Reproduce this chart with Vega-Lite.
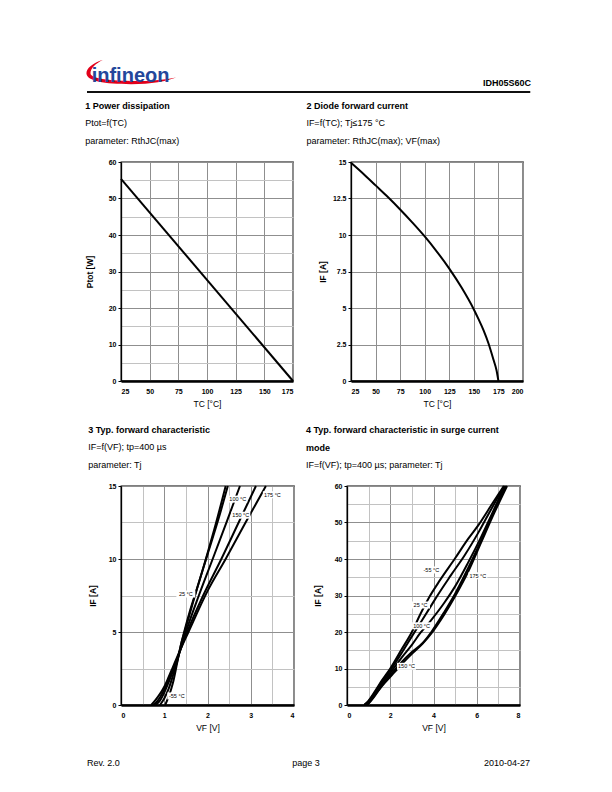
{
  "$schema": "https://vega.github.io/schema/vega-lite/v6.json",
  "background": "white",
  "padding": {"left": 84, "top": 55, "right": 5, "bottom": 5},
  "spacing": 8,
  "config": {
    "font": "Liberation Sans",
    "view": {"stroke": "black", "strokeWidth": 1.3},
    "axis": {"labelFont": "Liberation Sans", "labelFontSize": 7, "labelFontWeight": "bold", "labelColor": "black", "titleFont": "Liberation Sans", "titleFontSize": 8.5, "titleColor": "black", "domainColor": "black", "tickColor": "black", "gridColor": "#8f8f8f", "gridWidth": 1, "grid": true},
    "axisX": {"ticks": false, "labelPadding": 6, "titlePadding": 5, "domainWidth": 2.5, "titleFontWeight": "normal", "labelAngle": 0},
    "axisY": {"tickSize": 3, "labelPadding": 2, "titleFontWeight": "bold", "domainWidth": 1.3},
    "title": {"anchor": "start", "frame": "bounds", "font": "Liberation Sans", "fontSize": 9, "fontWeight": "bold", "color": "black", "subtitleFont": "Liberation Sans", "subtitleFontSize": 9, "subtitleColor": "black", "subtitleLineHeight": 18, "subtitlePadding": 8, "lineHeight": 18, "offset": 12},
    "line": {"color": "black", "strokeWidth": 2}
  },
  "vconcat": [
    {
      "width": 410,
      "height": 37,
      "view": {"stroke": null},
      "layer": [
        {
          "data": {"values": [{"part": "swoosh"}]},
          "mark": {"type": "point", "shape": "M -0.62 -0.27 C -0.85 -0.2 -1.0 -0.08 -0.99 0.04 C -0.97 0.2 -0.6 0.27 0.0 0.27 C 0.45 0.27 0.8 0.2 1.0 0.12 C 0.75 0.17 0.4 0.21 0.0 0.2 C -0.55 0.19 -0.9 0.14 -0.9 0.03 C -0.9 -0.07 -0.8 -0.18 -0.62 -0.27 Z", "filled": true, "color": "#e2001a", "opacity": 1, "size": 8100},
          "encoding": {
            "x": {"datum": 0.0244, "type": "quantitative", "scale": {"domain": [0, 1]}, "axis": null},
            "y": {"datum": 0.54, "type": "quantitative", "scale": {"domain": [0, 1]}, "axis": null}
          }
        },
        {
          "data": {"values": [{"t": "infineon"}]},
          "mark": {"type": "text", "align": "left", "baseline": "alphabetic", "font": "Liberation Sans", "fontSize": 20, "fontWeight": "bold", "color": "#24479b"},
          "encoding": {
            "x": {"datum": -0.0715, "type": "quantitative", "scale": {"domain": [0, 1]}, "axis": null},
            "y": {"datum": 0.28, "type": "quantitative", "scale": {"domain": [0, 1]}, "axis": null},
            "text": {"field": "t"}
          }
        },
        {
          "data": {"values": [{"t": "IDH05S60C"}]},
          "mark": {"type": "text", "align": "right", "baseline": "alphabetic", "font": "Liberation Sans", "fontSize": 9, "fontWeight": "bold", "color": "black"},
          "encoding": {
            "x": {"datum": 1, "type": "quantitative", "scale": {"domain": [0, 1]}, "axis": null},
            "y": {"datum": 0.15, "type": "quantitative", "scale": {"domain": [0, 1]}, "axis": null},
            "text": {"field": "t"}
          }
        },
        {
          "data": {"values": [{"part": "line"}]},
          "mark": {"type": "rule", "color": "black", "strokeWidth": 1.3},
          "encoding": {
            "x": {"datum": -0.0829, "type": "quantitative", "scale": {"domain": [0, 1]}, "axis": null},
            "x2": {"datum": 0.998, "type": "quantitative"},
            "y": {"datum": 0, "type": "quantitative", "scale": {"domain": [0, 1]}, "axis": null}
          }
        },
        {
          "data": {"values": [{"part": "line"}]},
          "mark": {"type": "rect", "color": "black"},
          "encoding": {
            "x": {"datum": -0.0829, "type": "quantitative", "scale": {"domain": [0, 1]}, "axis": null},
            "x2": {"datum": 0.998, "type": "quantitative"},
            "y": {"datum": 0.018, "type": "quantitative", "scale": {"domain": [0, 1]}, "axis": null},
            "y2": {"datum": -0.018, "type": "quantitative"}
          }
        }
      ]
    },
    {
      "spacing": 16,
      "vconcat": [
        {
          "spacing": 7,
          "hconcat": [
            {
              "width": 172,
              "height": 219,
              "title": {"text": "1 Power dissipation", "subtitle": ["Ptot=f(TC)", "parameter: RthJC(max)"]},
              "data": {"values": [{"Tc": 25, "Ptot": 55.4}, {"Tc": 175, "Ptot": 0}]},
              "mark": {"type": "line"},
              "encoding": {
                "x": {"field": "Tc", "type": "quantitative", "scale": {"domain": [25, 175], "nice": false, "zero": false}, "axis": {"title": "TC [°C]", "values": [25, 50, 75, 100, 125, 150, 175]}},
                "y": {"field": "Ptot", "type": "quantitative", "scale": {"domain": [0, 60], "nice": false}, "axis": {"title": "Ptot [W]", "titlePadding": 14, "values": [0, 5, 10, 15, 20, 25, 30, 35, 40, 45, 50, 55, 60], "labelExpr": "datum.value % 10 === 0 ? datum.label : ''", "tickOpacity": {"condition": {"test": "datum.value % 10 === 0", "value": 1}, "value": 0}, "gridColor": {"condition": {"test": "datum.value % 10 === 0", "value": "#8f8f8f"}, "value": "#c2c2c2"}}}
              }
            },
            {
              "width": 172,
              "height": 219,
              "title": {"text": "2 Diode forward current", "subtitle": ["IF=f(TC); Tj≤175 °C", "parameter: RthJC(max); VF(max)"], "dx": -12},
              "data": {"values": [
                {"Tc": 25, "IF": 14.95}, {"Tc": 37.5, "IF": 14.2}, {"Tc": 50, "IF": 13.4}, {"Tc": 62.5, "IF": 12.6},
                {"Tc": 75, "IF": 11.75}, {"Tc": 87.5, "IF": 10.85}, {"Tc": 100, "IF": 9.9}, {"Tc": 112.5, "IF": 8.85},
                {"Tc": 125, "IF": 7.7}, {"Tc": 137.5, "IF": 6.4}, {"Tc": 150, "IF": 4.9}, {"Tc": 155, "IF": 4.2},
                {"Tc": 160, "IF": 3.45}, {"Tc": 165, "IF": 2.55}, {"Tc": 170, "IF": 1.45}, {"Tc": 173, "IF": 0.75}, {"Tc": 175, "IF": 0}
              ]},
              "mark": {"type": "line", "interpolate": "monotone"},
              "encoding": {
                "x": {"field": "Tc", "type": "quantitative", "scale": {"domain": [25, 200], "nice": false, "zero": false}, "axis": {"title": "TC [°C]", "values": [25, 50, 75, 100, 125, 150, 175, 200]}},
                "y": {"field": "IF", "type": "quantitative", "scale": {"domain": [0, 15], "nice": false}, "axis": {"title": "IF [A]", "titlePadding": 5, "format": ".3~g", "values": [0, 2.5, 5, 7.5, 10, 12.5, 15]}}
              }
            }
          ]
        },
        {
          "spacing": 10,
          "hconcat": [
            {
              "width": 173,
              "height": 219,
              "title": {"text": "3 Typ. forward characteristic", "subtitle": ["IF=f(VF); tp=400 µs", "parameter: Tj"]},
              "encoding": {
                "x": {"field": "VF", "type": "quantitative", "scale": {"domain": [0, 4], "nice": false}, "axis": {"title": "VF [V]", "format": ".3~g", "values": [0, 0.5, 1, 1.5, 2, 2.5, 3, 3.5, 4], "labelExpr": "datum.value % 1 === 0 ? datum.label : ''", "gridColor": {"condition": {"test": "datum.value % 1 === 0", "value": "#8f8f8f"}, "value": "#c2c2c2"}}},
                "y": {"field": "IF", "type": "quantitative", "scale": {"domain": [0, 15], "nice": false}, "axis": {"title": "IF [A]", "titlePadding": 11, "format": ".3~g", "values": [0, 2.5, 5, 7.5, 10, 12.5, 15], "labelExpr": "datum.value % 5 === 0 ? datum.label : ''", "tickOpacity": {"condition": {"test": "datum.value % 5 === 0", "value": 1}, "value": 0}, "gridColor": {"condition": {"test": "datum.value % 5 === 0", "value": "#8f8f8f"}, "value": "#c2c2c2"}}}
              },
              "layer": [
                {
                  "data": {"values": [
                    {"Tj": "-55 °C", "VF": 1.02, "IF": 0}, {"Tj": "-55 °C", "VF": 1.1, "IF": 0.55}, {"Tj": "-55 °C", "VF": 1.2, "IF": 1.5}, {"Tj": "-55 °C", "VF": 1.3, "IF": 2.9}, {"Tj": "-55 °C", "VF": 1.4, "IF": 4.3}, {"Tj": "-55 °C", "VF": 1.46, "IF": 5.0}, {"Tj": "-55 °C", "VF": 1.6, "IF": 6.5}, {"Tj": "-55 °C", "VF": 1.75, "IF": 7.9}, {"Tj": "-55 °C", "VF": 2.0, "IF": 10.4}, {"Tj": "-55 °C", "VF": 2.2, "IF": 12.5}, {"Tj": "-55 °C", "VF": 2.42, "IF": 15},
                    {"Tj": "25 °C", "VF": 0.9, "IF": 0}, {"Tj": "25 °C", "VF": 1.0, "IF": 0.45}, {"Tj": "25 °C", "VF": 1.1, "IF": 1.1}, {"Tj": "25 °C", "VF": 1.2, "IF": 2.0}, {"Tj": "25 °C", "VF": 1.3, "IF": 3.0}, {"Tj": "25 °C", "VF": 1.4, "IF": 4.3}, {"Tj": "25 °C", "VF": 1.47, "IF": 5.0}, {"Tj": "25 °C", "VF": 1.72, "IF": 7.6}, {"Tj": "25 °C", "VF": 2.0, "IF": 10.3}, {"Tj": "25 °C", "VF": 2.25, "IF": 12.7}, {"Tj": "25 °C", "VF": 2.47, "IF": 15},
                    {"Tj": "100 °C", "VF": 0.8, "IF": 0}, {"Tj": "100 °C", "VF": 0.9, "IF": 0.3}, {"Tj": "100 °C", "VF": 1.0, "IF": 0.85}, {"Tj": "100 °C", "VF": 1.1, "IF": 1.55}, {"Tj": "100 °C", "VF": 1.2, "IF": 2.3}, {"Tj": "100 °C", "VF": 1.3, "IF": 3.1}, {"Tj": "100 °C", "VF": 1.5, "IF": 5.0}, {"Tj": "100 °C", "VF": 1.8, "IF": 7.5}, {"Tj": "100 °C", "VF": 2.12, "IF": 10.0}, {"Tj": "100 °C", "VF": 2.45, "IF": 12.6}, {"Tj": "100 °C", "VF": 2.75, "IF": 15},
                    {"Tj": "150 °C", "VF": 0.75, "IF": 0}, {"Tj": "150 °C", "VF": 0.85, "IF": 0.3}, {"Tj": "150 °C", "VF": 1.0, "IF": 1.05}, {"Tj": "150 °C", "VF": 1.1, "IF": 1.7}, {"Tj": "150 °C", "VF": 1.2, "IF": 2.45}, {"Tj": "150 °C", "VF": 1.3, "IF": 3.2}, {"Tj": "150 °C", "VF": 1.53, "IF": 5.0}, {"Tj": "150 °C", "VF": 1.9, "IF": 7.5}, {"Tj": "150 °C", "VF": 2.32, "IF": 10.0}, {"Tj": "150 °C", "VF": 2.72, "IF": 12.5}, {"Tj": "150 °C", "VF": 3.12, "IF": 15},
                    {"Tj": "175 °C", "VF": 0.7, "IF": 0}, {"Tj": "175 °C", "VF": 0.8, "IF": 0.35}, {"Tj": "175 °C", "VF": 1.0, "IF": 1.25}, {"Tj": "175 °C", "VF": 1.1, "IF": 1.9}, {"Tj": "175 °C", "VF": 1.2, "IF": 2.6}, {"Tj": "175 °C", "VF": 1.3, "IF": 3.3}, {"Tj": "175 °C", "VF": 1.56, "IF": 5.0}, {"Tj": "175 °C", "VF": 2.0, "IF": 7.8}, {"Tj": "175 °C", "VF": 2.42, "IF": 10.0}, {"Tj": "175 °C", "VF": 2.88, "IF": 12.5}, {"Tj": "175 °C", "VF": 3.35, "IF": 15}
                  ]},
                  "mark": {"type": "line", "interpolate": "monotone"},
                  "encoding": {"detail": {"field": "Tj"}}
                },
                {
                  "data": {"name": "lab3", "values": [
                    {"label": "100 °C", "VF": 2.7, "IF": 14.1}, {"label": "150 °C", "VF": 2.77, "IF": 13.0}, {"label": "175 °C", "VF": 3.5, "IF": 14.4}, {"label": "25 °C", "VF": 1.5, "IF": 7.6}, {"label": "-55 °C", "VF": 1.29, "IF": 0.62}
                  ]},
                  "mark": {"type": "point", "shape": "M -1 -0.37 L 1 -0.37 L 1 0.37 L -1 0.37 Z", "filled": true, "color": "white", "opacity": 1, "size": 361}
                },
                {
                  "data": {"name": "lab3"},
                  "mark": {"type": "text", "font": "Liberation Sans", "fontSize": 5.5, "color": "black"},
                  "encoding": {"text": {"field": "label"}}
                }
              ]
            },
            {
              "width": 173,
              "height": 219,
              "title": {"text": ["4 Typ.  forward characteristic in surge current", "mode"], "subtitle": ["IF=f(VF); tp=400 µs; parameter: Tj"], "dx": -7.3},
              "encoding": {
                "x": {"field": "VF", "type": "quantitative", "scale": {"domain": [0, 8], "nice": false}, "axis": {"title": "VF [V]", "format": ".3~g", "values": [0, 1, 2, 3, 4, 5, 6, 7, 8], "labelExpr": "datum.value % 2 === 0 ? datum.label : ''", "gridColor": {"condition": {"test": "datum.value % 2 === 0", "value": "#8f8f8f"}, "value": "#c2c2c2"}}},
                "y": {"field": "IF", "type": "quantitative", "scale": {"domain": [0, 60], "nice": false}, "axis": {"title": "IF [A]", "titlePadding": 12, "values": [0, 5, 10, 15, 20, 25, 30, 35, 40, 45, 50, 55, 60], "labelExpr": "datum.value % 10 === 0 ? datum.label : ''", "tickOpacity": {"condition": {"test": "datum.value % 10 === 0", "value": 1}, "value": 0}, "gridColor": {"condition": {"test": "datum.value % 10 === 0", "value": "#8f8f8f"}, "value": "#c2c2c2"}}}
              },
              "layer": [
                {
                  "data": {"values": [
                    {"Tj": "-55 °C", "VF": 0.8, "IF": 0}, {"Tj": "-55 °C", "VF": 1.0, "IF": 1.2}, {"Tj": "-55 °C", "VF": 1.3, "IF": 3.8}, {"Tj": "-55 °C", "VF": 1.6, "IF": 6.6}, {"Tj": "-55 °C", "VF": 2.0, "IF": 10}, {"Tj": "-55 °C", "VF": 2.5, "IF": 15}, {"Tj": "-55 °C", "VF": 3.0, "IF": 20}, {"Tj": "-55 °C", "VF": 3.4, "IF": 25}, {"Tj": "-55 °C", "VF": 3.75, "IF": 29}, {"Tj": "-55 °C", "VF": 4.3, "IF": 34.2}, {"Tj": "-55 °C", "VF": 5.0, "IF": 40.2}, {"Tj": "-55 °C", "VF": 5.6, "IF": 45.5}, {"Tj": "-55 °C", "VF": 6.1, "IF": 49.5}, {"Tj": "-55 °C", "VF": 6.7, "IF": 55}, {"Tj": "-55 °C", "VF": 7.25, "IF": 60},
                    {"Tj": "25 °C", "VF": 0.8, "IF": 0}, {"Tj": "25 °C", "VF": 1.0, "IF": 1.0}, {"Tj": "25 °C", "VF": 1.3, "IF": 3.5}, {"Tj": "25 °C", "VF": 1.6, "IF": 6.3}, {"Tj": "25 °C", "VF": 2.0, "IF": 9.5}, {"Tj": "25 °C", "VF": 2.5, "IF": 14}, {"Tj": "25 °C", "VF": 3.0, "IF": 18.8}, {"Tj": "25 °C", "VF": 3.5, "IF": 23.5}, {"Tj": "25 °C", "VF": 3.9, "IF": 27.3}, {"Tj": "25 °C", "VF": 4.14, "IF": 29.6}, {"Tj": "25 °C", "VF": 4.8, "IF": 35.5}, {"Tj": "25 °C", "VF": 5.45, "IF": 41.1}, {"Tj": "25 °C", "VF": 6.1, "IF": 47.5}, {"Tj": "25 °C", "VF": 6.7, "IF": 54}, {"Tj": "25 °C", "VF": 7.28, "IF": 60},
                    {"Tj": "100 °C", "VF": 0.8, "IF": 0}, {"Tj": "100 °C", "VF": 1.0, "IF": 1.0}, {"Tj": "100 °C", "VF": 1.3, "IF": 3.3}, {"Tj": "100 °C", "VF": 1.6, "IF": 5.8}, {"Tj": "100 °C", "VF": 2.0, "IF": 8.8}, {"Tj": "100 °C", "VF": 2.5, "IF": 12.8}, {"Tj": "100 °C", "VF": 3.0, "IF": 16.5}, {"Tj": "100 °C", "VF": 3.4, "IF": 19.8}, {"Tj": "100 °C", "VF": 3.83, "IF": 22.8}, {"Tj": "100 °C", "VF": 4.5, "IF": 28}, {"Tj": "100 °C", "VF": 5.0, "IF": 32.5}, {"Tj": "100 °C", "VF": 5.6, "IF": 39}, {"Tj": "100 °C", "VF": 6.2, "IF": 46}, {"Tj": "100 °C", "VF": 6.75, "IF": 53}, {"Tj": "100 °C", "VF": 7.3, "IF": 60},
                    {"Tj": "150 °C", "VF": 0.9, "IF": 0}, {"Tj": "150 °C", "VF": 1.1, "IF": 1.3}, {"Tj": "150 °C", "VF": 1.4, "IF": 3.6}, {"Tj": "150 °C", "VF": 1.7, "IF": 6}, {"Tj": "150 °C", "VF": 2.0, "IF": 8.2}, {"Tj": "150 °C", "VF": 2.5, "IF": 11.6}, {"Tj": "150 °C", "VF": 3.0, "IF": 14.5}, {"Tj": "150 °C", "VF": 3.5, "IF": 17}, {"Tj": "150 °C", "VF": 3.9, "IF": 20}, {"Tj": "150 °C", "VF": 4.5, "IF": 25.5}, {"Tj": "150 °C", "VF": 5.0, "IF": 30.5}, {"Tj": "150 °C", "VF": 5.6, "IF": 37.5}, {"Tj": "150 °C", "VF": 6.2, "IF": 45}, {"Tj": "150 °C", "VF": 6.75, "IF": 52.5}, {"Tj": "150 °C", "VF": 7.35, "IF": 60},
                    {"Tj": "175 °C", "VF": 0.95, "IF": 0}, {"Tj": "175 °C", "VF": 1.2, "IF": 1.8}, {"Tj": "175 °C", "VF": 1.5, "IF": 4.3}, {"Tj": "175 °C", "VF": 1.8, "IF": 6.4}, {"Tj": "175 °C", "VF": 2.2, "IF": 9}, {"Tj": "175 °C", "VF": 2.6, "IF": 11.6}, {"Tj": "175 °C", "VF": 3.0, "IF": 14}, {"Tj": "175 °C", "VF": 3.5, "IF": 16.8}, {"Tj": "175 °C", "VF": 3.9, "IF": 19.6}, {"Tj": "175 °C", "VF": 4.5, "IF": 24.8}, {"Tj": "175 °C", "VF": 5.0, "IF": 29.8}, {"Tj": "175 °C", "VF": 5.6, "IF": 36.5}, {"Tj": "175 °C", "VF": 6.2, "IF": 44.5}, {"Tj": "175 °C", "VF": 6.8, "IF": 52.5}, {"Tj": "175 °C", "VF": 7.4, "IF": 60}
                  ]},
                  "mark": {"type": "line", "interpolate": "monotone"},
                  "encoding": {"detail": {"field": "Tj"}}
                },
                {
                  "data": {"name": "lab4", "values": [
                    {"label": "-55 °C", "VF": 3.9, "IF": 37.0}, {"label": "25 °C", "VF": 3.4, "IF": 27.4}, {"label": "100 °C", "VF": 3.45, "IF": 21.7}, {"label": "175 °C", "VF": 6.05, "IF": 35.4}, {"label": "150 °C", "VF": 2.75, "IF": 10.6}
                  ]},
                  "mark": {"type": "point", "shape": "M -1 -0.37 L 1 -0.37 L 1 0.37 L -1 0.37 Z", "filled": true, "color": "white", "opacity": 1, "size": 361}
                },
                {
                  "data": {"name": "lab4"},
                  "mark": {"type": "text", "font": "Liberation Sans", "fontSize": 5.5, "color": "black"},
                  "encoding": {"text": {"field": "label"}}
                }
              ]
            }
          ]
        }
      ]
    },
    {
      "width": 410,
      "height": 25,
      "view": {"stroke": null},
      "layer": [
        {
          "data": {"values": [{"t": "Rev. 2.0"}]},
          "mark": {"type": "text", "align": "left", "baseline": "alphabetic", "font": "Liberation Sans", "fontSize": 9, "color": "black"},
          "encoding": {
            "x": {"datum": -0.0829, "type": "quantitative", "scale": {"domain": [0, 1]}, "axis": null},
            "y": {"datum": 0, "type": "quantitative", "scale": {"domain": [0, 1]}, "axis": null},
            "text": {"field": "t"}
          }
        },
        {
          "data": {"values": [{"t": "page 3"}]},
          "mark": {"type": "text", "align": "center", "baseline": "alphabetic", "font": "Liberation Sans", "fontSize": 9, "color": "black"},
          "encoding": {
            "x": {"datum": 0.451, "type": "quantitative", "scale": {"domain": [0, 1]}, "axis": null},
            "y": {"datum": 0, "type": "quantitative", "scale": {"domain": [0, 1]}, "axis": null},
            "text": {"field": "t"}
          }
        },
        {
          "data": {"values": [{"t": "2010-04-27"}]},
          "mark": {"type": "text", "align": "right", "baseline": "alphabetic", "font": "Liberation Sans", "fontSize": 9, "color": "black"},
          "encoding": {
            "x": {"datum": 0.9976, "type": "quantitative", "scale": {"domain": [0, 1]}, "axis": null},
            "y": {"datum": 0, "type": "quantitative", "scale": {"domain": [0, 1]}, "axis": null},
            "text": {"field": "t"}
          }
        }
      ]
    }
  ]
}
